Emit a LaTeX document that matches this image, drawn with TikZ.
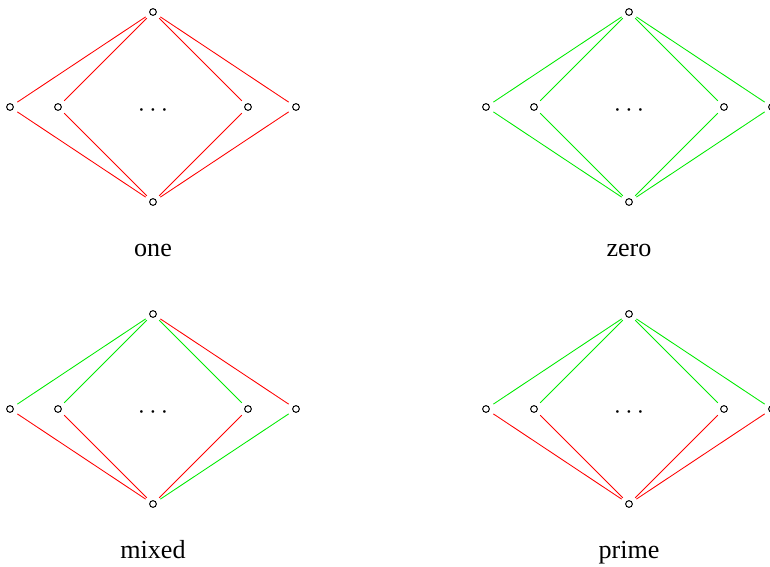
\documentclass[tikz,border=0pt]{standalone}
\usepackage{fontspec}
\setmainfont{Liberation Serif}

\definecolor{edgered}{RGB}{255,0,0}
\definecolor{edgegreen}{RGB}{0,235,0}

% nodes of one lattice: prefix, top x, top y, caption
\newcommand{\latticenodes}[4]{%
  \node[vtx] (#1t) at (#2,#3) {};
  \node[vtx] (#1a) at (#2-143,#3+95) {};
  \node[vtx] (#1b) at (#2-95,#3+95) {};
  \node[vtx] (#1c) at (#2+95,#3+95) {};
  \node[vtx] (#1d) at (#2+143,#3+95) {};
  \node[vtx] (#1u) at (#2,#3+190) {};
  \node[font=\fontsize{12}{14}\selectfont] (#1dots) at (#2,#3+99) {$\cdots$};
  \node[anchor=base,font=\fontsize{12}{14}\selectfont] (#1name) at (#2,#3+244) {#4};
}

\begin{document}
\begin{tikzpicture}[x=0.46pt,y=-0.46pt]
    \tikzset{vtx/.style={circle,draw,line width=0.45pt,inner sep=0pt,
        minimum size=3.1pt,outer sep=2.5pt}}
    \useasboundingbox (0,0) rectangle (770,566);

    % Lattices
    \latticenodes{o}{153}{12}{one}
    \latticenodes{z}{629}{12}{zero}
    \latticenodes{m}{153}{314}{mixed}
    \latticenodes{p}{629}{314}{prime}

    % Edges of one
    \foreach \v in {a,b,c,d} {
        \draw[edgered] (ot) -- (o\v);
        \draw[edgered] (o\v) -- (ou);
    }

    % Edges of zero
    \foreach \v in {a,b,c,d} {
        \draw[edgegreen] (zt) -- (z\v);
        \draw[edgegreen] (z\v) -- (zu);
    }

    % Edges of mixed
    \foreach \v/\up/\down in {a/edgegreen/edgered,b/edgegreen/edgered,
        c/edgegreen/edgered,d/edgered/edgegreen} {
        \draw[\up] (mt) -- (m\v);
        \draw[\down] (m\v) -- (mu);
    }

    % Edges of prime
    \foreach \v in {a,b,c,d} {
        \draw[edgegreen] (pt) -- (p\v);
        \draw[edgered] (p\v) -- (pu);
    }
\end{tikzpicture}
\end{document}
